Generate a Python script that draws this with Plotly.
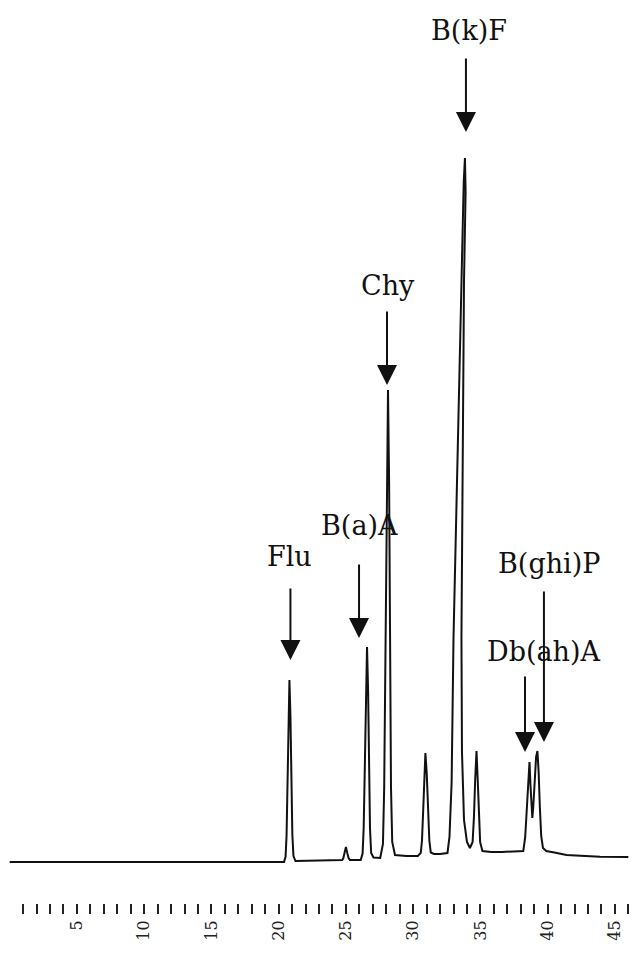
import plotly.graph_objects as go

# Detector trace: retention time (min) and signal (arbitrary units), vertex by vertex
TIME = [
    0.0, 6.0, 12.0, 17.0, 20.40,
    20.515, 20.588, 20.663, 20.729, 20.80, 20.876, 20.94, 21.017, 21.10, 21.25,
    23.0, 24.72,
    24.80, 24.89, 25.00, 25.11, 25.21, 25.30,
    25.8, 26.10,
    26.24, 26.321, 26.409, 26.488, 26.57, 26.649, 26.712, 26.79, 26.876, 27.05,
    27.55,
    27.754, 27.845, 27.946, 28.038, 28.13, 28.212, 28.273, 28.352, 28.443, 28.65,
    29.5, 30.35,
    30.565, 30.656, 30.746, 30.823, 30.91, 31.01, 31.099, 31.203, 31.31, 31.55,
    32.0, 32.55,
    32.70, 32.86, 33.00, 33.20, 33.42, 33.62, 33.76, 33.85,
    33.90, 33.78, 33.70, 33.62, 33.59, 33.63, 33.78, 34.0, 34.22,
    34.42, 34.52, 34.61, 34.71, 34.80, 34.89, 34.98, 35.15, 35.8,
    36.6, 37.5, 38.19,
    38.33, 38.45, 38.56, 38.65, 38.73, 38.80, 38.86, 38.93, 39.03, 39.14, 39.24,
    39.33, 39.42, 39.52, 39.65, 39.9,
    40.5, 41.4, 42.8, 43.9, 46.0,
]
SIGNAL = [
    0.0, 0.0, 0.05, 0.0, 0.0,
    0.55, 2.73, 8.19, 14.56, 18.2, 14.56, 8.19, 2.73, 0.6, 0.1,
    0.15, 0.2,
    0.35, 0.85, 1.5, 0.85, 0.35, 0.2,
    0.2, 0.2,
    0.84, 3.4, 9.8, 17.2, 21.5, 17.2, 9.8, 3.4, 0.9, 0.45,
    0.4,
    1.8, 7.4, 21.5, 37.8, 47.2, 37.8, 21.5, 7.4, 2.0, 0.7,
    0.6, 0.6,
    0.91, 2.15, 5.2, 8.84, 10.9, 8.84, 5.2, 2.15, 0.95, 0.8,
    0.8, 0.9,
    2.5, 8.0, 22.4, 35.0, 48.0, 61.0, 68.0, 70.4,
    67.0, 58.0, 45.0, 32.0, 22.4, 11.0, 4.2, 2.0, 1.4,
    2.0, 4.5, 8.2, 11.1, 8.2, 4.5, 2.0, 1.1, 1.0,
    1.0, 1.05, 1.1,
    2.5, 5.5, 8.6, 10.0, 7.5, 5.2, 4.4, 5.5, 8.5, 10.5, 11.1,
    9.0, 5.5, 2.6, 1.4, 1.1,
    0.95, 0.7, 0.6, 0.53, 0.5,
]

# Identified compounds: name, apex time (min), apex signal
PEAK_NAMES = ["Flu", "B(a)A", "Chy", "B(k)F", "Db(ah)A", "B(ghi)P"]
PEAK_TIMES = [20.80, 26.57, 28.13, 33.85, 38.65, 39.24]
PEAK_HEIGHTS = [18.2, 21.5, 47.2, 70.4, 10.0, 11.1]

# Time axis ticks every minute, labelled every five
TICK_MINUTES = list(range(1, 47))
TICK_LABELS = [str(m) if m % 5 == 0 else "" for m in TICK_MINUTES]

# Label placement in pixels: arrow (dx, gap above apex, length), text (dx, dy)
ARROW_PLACE = [(1, 20, 73), (-8, 9, 75), (-1, 5, 75), (1, 26, 75), (-4.5, 10, 77), (6.5, 9, 152)]
TEXT_PLACE = [(0.5, 124), (-8, 122), (0, 105), (4, 128), (13.5, 111), (11.5, 188)]

SERIF = "DejaVu Serif"

fig = go.Figure()
fig.add_trace(go.Scatter(
    x=TIME, y=SIGNAL, mode="lines",
    line=dict(color="#111111", width=2),
    hoverinfo="skip", showlegend=False,
))

annotations = []
for name, t, h, (adx, gap, length), (tdx, tdy) in zip(
        PEAK_NAMES, PEAK_TIMES, PEAK_HEIGHTS, ARROW_PLACE, TEXT_PLACE):
    annotations.append(dict(
        x=t, y=h, xref="x", yref="y", text="",
        showarrow=True, arrowhead=2, arrowsize=2, arrowwidth=2,
        arrowcolor="#111111", ax=0, ay=-length,
        xshift=adx, yshift=gap,
    ))
    annotations.append(dict(
        x=t, y=h, xref="x", yref="y", text=name, showarrow=False,
        xanchor="center", yanchor="middle",
        xshift=tdx, yshift=tdy,
        font=dict(family=SERIF, size=27, color="#111111"),
    ))

fig.update_layout(
    width=634, height=954,
    margin=dict(l=0, r=0, t=0, b=51),
    paper_bgcolor="white", plot_bgcolor="white",
    annotations=annotations,
    xaxis=dict(
        range=[-0.72, 46.42],
        tickmode="array", tickvals=TICK_MINUTES, ticktext=TICK_LABELS,
        ticks="outside", ticklen=10, tickwidth=2, tickcolor="#222222",
        tickangle=-90,
        tickfont=dict(family=SERIF, size=16, color="#222222"),
        showline=False, showgrid=False, zeroline=False,
    ),
    yaxis=dict(
        range=[-4.1, 86.2], visible=False,
        showgrid=False, zeroline=False,
    ),
)

fig.write_html("out.html")
